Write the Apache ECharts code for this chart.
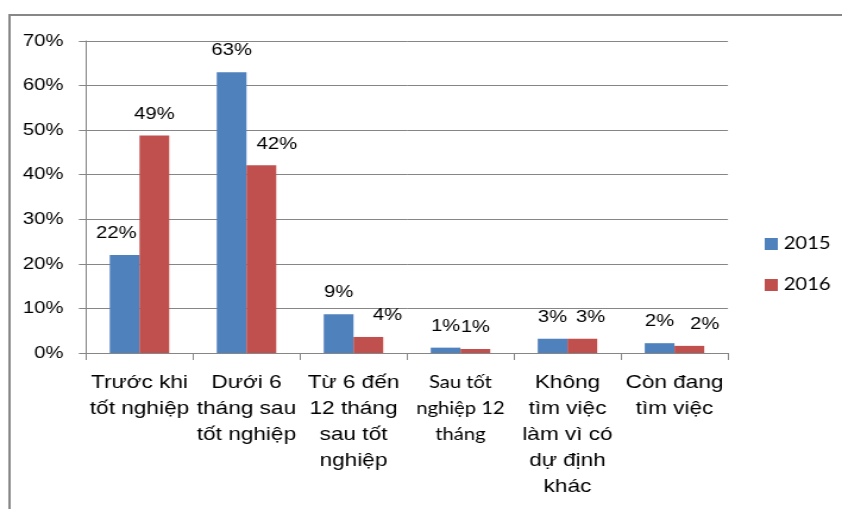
<!DOCTYPE html>
<html>
<head>
<meta charset="utf-8">
<script src="https://cdn.jsdelivr.net/npm/echarts@6/dist/echarts.min.js"></script>
<style>
html,body{margin:0;padding:0;background:#fff;overflow:hidden;}
#chart{width:708px;height:509px;transform:scaleX(1.1893);transform-origin:0 0;}
</style>
</head>
<body>
<div id="chart"></div>
<script>
// ---- data ----
var categories = [
  'Trước khi\ntốt nghiệp',
  'Dưới 6\ntháng sau\ntốt nghiệp',
  'Từ 6 đến\n12 tháng\nsau tốt\nnghiệp',
  'Sau tốt\nnghiệp 12\ntháng',
  'Không\ntìm việc\nlàm vì có\ndự định\nkhác',
  'Còn đang\ntìm việc'
];
var seriesNames = ['2015', '2016'];
var values2015 = [22, 63, 8.7, 1.2, 3.2, 2.2];
var values2016 = [48.8, 42.1, 3.6, 0.9, 3.2, 1.6];
var yTicks = [0, 10, 20, 30, 40, 50, 60, 70];

// ---- styling (label offsets are style only) ----
var off2015 = [-7, 0, 0, 0, 0, 0];
var off2016 = [0, 13, 16, 0, 7, 13];
var colors = ['#4F81BD', '#C0504D'];

function buildData(vals, offs) {
  return vals.map(function (v, i) {
    return { value: v, label: { offset: [offs[i], 0] } };
  });
}

var chart = echarts.init(document.getElementById('chart'), null, { renderer: 'canvas' });
var labelStyle = {
  show: true, position: 'top', distance: 13,
  fontFamily: 'Liberation Sans, Arial, sans-serif', fontSize: 17, lineHeight: 17, color: '#000',
  formatter: function (p) { return Math.round(p.value) + '%'; }
};
chart.setOption({
  animation: false,
  backgroundColor: '#fff',
  color: colors,
  graphic: [
    { type: 'line', shape: { x1: 7, y1: 15, x2: 708, y2: 15 }, style: { stroke: '#878787', lineWidth: 2 } },
    { type: 'line', shape: { x1: 8, y1: 14, x2: 8, y2: 509 }, style: { stroke: '#878787', lineWidth: 2 } }
  ],
  grid: { left: 72.3, right: 95.9, top: 41, bottom: 156, containLabel: false },
  legend: {
    orient: 'vertical', left: 643, top: 235.5, padding: 0,
    itemWidth: 11, itemHeight: 12, itemGap: 24,
    icon: 'rect',
    textStyle: { fontFamily: 'Lato, sans-serif', fontSize: 17, lineHeight: 17, color: '#000', padding: [0, 0, 0, 0] },
    data: seriesNames
  },
  xAxis: {
    type: 'category',
    data: categories,
    axisLine: { show: true, lineStyle: { color: '#868686', width: 1 } },
    axisTick: { show: true, length: 7, alignWithLabel: false, lineStyle: { color: '#868686' } },
    axisLabel: {
      interval: 0, margin: 17,
      fontFamily: 'Liberation Sans, Arial, sans-serif', fontSize: 19, lineHeight: 26, color: '#000',
      align: 'center',
      formatter: function (v, i) {
        if (i === 3) { return '{c|' + v.split('\n').join('}\n{c|') + '}'; }
        return v;
      },
      rich: { c: { fontFamily: 'Lato, sans-serif', fontSize: 17, lineHeight: 26, color: '#000' } }
    }
  },
  yAxis: {
    type: 'value',
    min: yTicks[0], max: yTicks[yTicks.length - 1], interval: yTicks[1] - yTicks[0],
    axisLine: { show: true, lineStyle: { color: '#868686', width: 1 } },
    axisTick: { show: true, length: 6, lineStyle: { color: '#868686' } },
    splitLine: { show: true, lineStyle: { color: '#868686', width: 1 } },
    axisLabel: {
      margin: 19, fontFamily: 'Liberation Sans, Arial, sans-serif', fontSize: 17, color: '#000',
      formatter: '{value}%'
    }
  },
  series: [
    { name: seriesNames[0], type: 'bar', barWidth: 25, barGap: '0%', data: buildData(values2015, off2015), label: labelStyle },
    { name: seriesNames[1], type: 'bar', barWidth: 25, barGap: '0%', data: buildData(values2016, off2016), label: labelStyle }
  ]
});
</script>
</body>
</html>
